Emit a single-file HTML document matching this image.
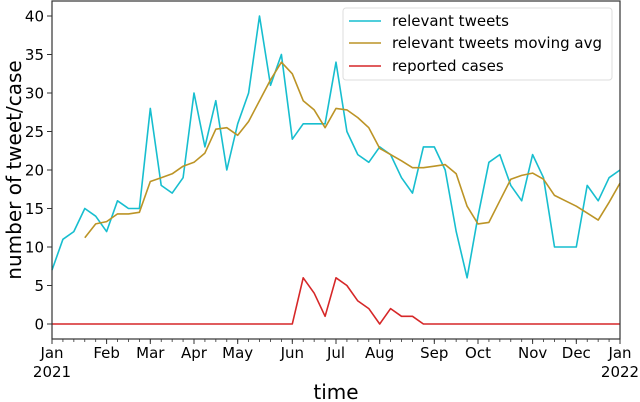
<!DOCTYPE html>
<html><head><meta charset="utf-8"><style>
body{margin:0;background:#fff;}
svg{display:block;font-family:"DejaVu Sans","Liberation Sans",sans-serif;}
</style></head><body>
<svg id="chart" width="640" height="402" viewBox="0 0 640 402"></svg>
<script>
const tweets=[7,11,12,15,14,12,16,15,15,28,18,17,19,30,23,29,20,26,30,40,31,35,24,26,26,26,34,25,22,21,23,22,19,17,23,23,20,12,6,14,21,22,18,16,22,19,10,10,10,18,16,19,20];
const movingAvg=[null,null,null,11.2,13,13.3,14.3,14.3,14.5,18.5,19,19.5,20.5,21,22.2,25.3,25.5,24.5,26.3,29,31.7,34,32.5,29,27.8,25.5,28,27.8,26.8,25.5,22.8,22,21.2,20.3,20.3,20.5,20.7,19.5,15.3,13,13.2,16,18.8,19.3,19.6,18.8,16.7,16,15.3,14.4,13.5,15.8,18.3];
const cases=[0,0,0,0,0,0,0,0,0,0,0,0,0,0,0,0,0,0,0,0,0,0,0,6,4,1,6,5,3,2,0,2,1,1,0,0,0,0,0,0,0,0,0,0,0,0,0,0,0,0,0,0,0];
const monthLabels=["Jan","Feb","Mar","Apr","May","Jun","Jul","Aug","Sep","Oct","Nov","Dec","Jan"];
const monthWeeks=[0,5,9,13,17,22,26,30,35,39,44,48,52];
const yTicks=[0,5,10,15,20,25,30,35,40];

const NS="http://www.w3.org/2000/svg";
const svg=document.getElementById('chart');
const L=52,R=620,T=1,B=339;
const x=i=>L+i*(R-L)/52;
const y=v=>324-v*7.7;
function mk(tag,attrs,parent){const e=document.createElementNS(NS,tag);for(const k in attrs)e.setAttribute(k,attrs[k]);(parent||svg).appendChild(e);return e;}

// y ticks
yTicks.forEach(v=>{
  const t=mk('line',{x1:L-5,x2:L,y1:y(v),y2:y(v),stroke:'#333','stroke-width':1});
  
  
  const l=mk('text',{x:L-8,y:y(v)+5.5,'text-anchor':'end','font-size':15,fill:'#000'});
  l.textContent=v;
  
  
});
// x minor ticks
for(let i=0;i<=52;i++){
  const t=mk('line',{x1:x(i),x2:x(i),y1:B,y2:B+3,stroke:'#333','stroke-width':0.8});
  
  
}
monthWeeks.forEach((w,k)=>{
  const t=mk('line',{x1:x(w),x2:x(w),y1:B,y2:B+5,stroke:'#333','stroke-width':1});
  
  
  const l=mk('text',{x:x(w),y:358,'text-anchor':'middle','font-size':15,fill:'#000'});
  l.textContent=monthLabels[k];
  
  
});
[[0,'2021'],[52,'2022']].forEach(([w,s])=>{
  const l=mk('text',{x:x(w),y:377,'text-anchor':'middle','font-size':15,fill:'#000'});
  l.textContent=s;
  
  
});

function line(arr,color,name){
  let d='';arr.forEach((v,i)=>{if(v==null)return;d+=(d?'L':'M')+x(i).toFixed(1)+','+y(v).toFixed(1);});
  const p=mk('path',{d:d,fill:'none',stroke:color,'stroke-width':1.6,'stroke-linejoin':'round'});
  
  
}
line(tweets,'#17becf','relevant-tweets-line');
line(movingAvg,'#bc9426','moving-avg-line');
line(cases,'#d62728','reported-cases-line');

const fr=mk('rect',{x:L,y:T,width:R-L,height:B-T,fill:'none',stroke:'#333','stroke-width':1.2});



// legend
const lg=mk('g',{});


mk('rect',{x:343,y:8,width:269,height:72,rx:3,fill:'#fff','fill-opacity':0.8,stroke:'#ddd'},lg);
[['relevant tweets','#17becf',21],['relevant tweets moving avg','#bc9426',43],['reported cases','#d62728',66]].forEach(([s,c,yy])=>{
  const g=mk('g',{},lg);
  
  
  mk('line',{x1:349,x2:381,y1:yy,y2:yy,stroke:c,'stroke-width':1.6},g);
  const t=mk('text',{x:392,y:yy+5,'font-size':15,fill:'#000'},g);t.textContent=s;
});

const xt=mk('text',{x:336,y:399,'text-anchor':'middle','font-size':20,fill:'#000'});
xt.textContent='time';


const yt=mk('text',{x:0,y:0,'text-anchor':'middle','font-size':20,fill:'#000',transform:'translate(21,170) rotate(-90)'});
yt.textContent='number of tweet/case';


</script>
</body></html>
